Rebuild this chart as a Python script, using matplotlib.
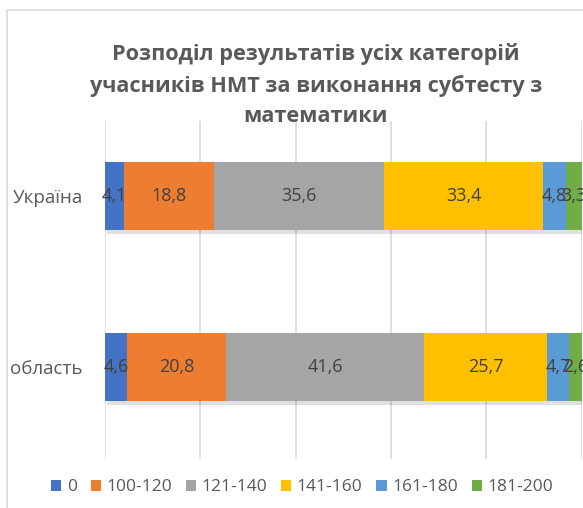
import matplotlib.pyplot as plt
from matplotlib.patches import Rectangle, Patch
import matplotlib.patheffects as pe

plt.rcParams['font.family'] = ['Open Sans', 'DejaVu Sans']

# дані
regions = ["Україна", "область"]
groups = ["0", "100-120", "121-140", "141-160", "161-180", "181-200"]
ukraine = [4.1, 18.8, 35.6, 33.4, 4.8, 3.3]
oblast = [4.6, 20.8, 41.6, 25.7, 4.7, 2.6]
colors = ["#4472C4", "#ED7D31", "#A5A5A5", "#FFC000", "#5B9BD5", "#70AD47"]
title = "Розподіл результатів усіх категорій\nучасників НМТ за виконання субтесту з\nматематики"

fig = plt.figure(figsize=(5.83, 5.08), dpi=100)
ax = fig.add_axes([0.180, 0.0965, 0.818, 0.666])

ypos = [1, 0]
series = list(zip(ukraine, oblast))
left = [0, 0]
for i, vals in enumerate(series):
    ax.barh(ypos, vals, left=left, height=0.4, color=colors[i], zorder=3,
            path_effects=[pe.SimplePatchShadow(offset=(1.5, -3), shadow_rgbFace="#000000", alpha=0.12),
                          pe.Normal()])
    for y, v, l in zip(ypos, vals, left):
        ax.text(l + v / 2, y, str(v).replace(".", ","), ha="center", va="center",
                fontsize=13, color="#404040", zorder=4)
    left = [a + b for a, b in zip(left, vals)]

ax.set_xlim(0, 100)
ax.set_ylim(-0.537, 1.439)
ax.set_xticks(range(0, 101, 20))
ax.set_xticklabels([])
ax.tick_params(axis="x", length=0)
ax.tick_params(axis="y", length=0, labelsize=13.5, labelcolor="#595959", pad=16)
ax.set_yticks(ypos)
ax.set_yticklabels(regions)
ax.grid(axis="x", color="#D9D9D9", linewidth=1.2, zorder=0)
for s in ax.spines.values():
    s.set_visible(False)

fig.text(0.542, 0.833, title, ha="center", va="center", fontsize=15.6, fontweight="bold",
         color="#595959", linespacing=1.57)

handles = [Patch(facecolor=c, label=g) for c, g in zip(colors, groups)]
fig.legend(handles=handles, loc="center", bbox_to_anchor=(0.518, 0.041), ncol=6, frameon=False,
           fontsize=12.5, handlelength=0.6, handleheight=0.6, handletextpad=0.3, columnspacing=0.8,
           labelcolor="#595959")

# рамка діаграми
fig.patches.append(Rectangle((7 / 583, -0.1), 1.2, 1 - 10 / 508 + 0.1, transform=fig.transFigure,
                             fill=False, edgecolor="#D9D9D9", linewidth=1.2))

plt.savefig("out.png", dpi=100)
